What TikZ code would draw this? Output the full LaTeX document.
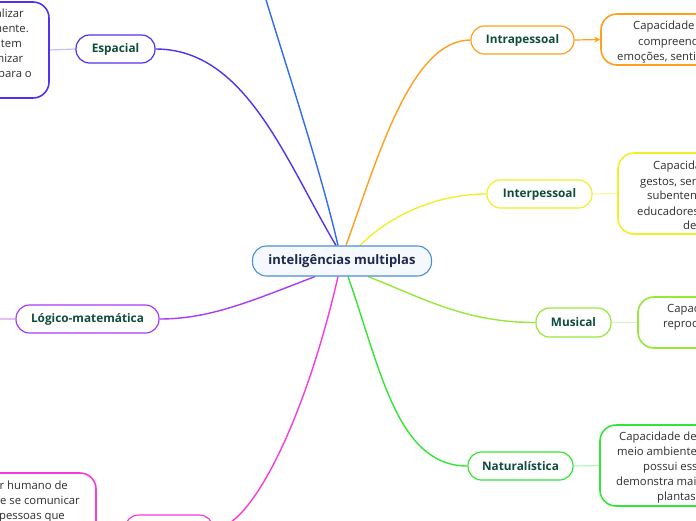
\documentclass[tikz,border=0pt]{standalone}
\usepackage{fontspec}
\setmainfont{Open Sans}
\usetikzlibrary{calc,arrows.meta,backgrounds}
\definecolor{cEsp}{HTML}{5530EE}
\definecolor{cBlue}{HTML}{2F6BF5}
\definecolor{cOrange}{HTML}{FF9F1C}
\definecolor{cYellow}{HTML}{EFEF2A}
\definecolor{cChart}{HTML}{95E83A}
\definecolor{cGreen}{HTML}{33E633}
\definecolor{cMag}{HTML}{F53BDC}
\definecolor{cPurp}{HTML}{A93BF5}
\definecolor{cCent}{HTML}{4A8FD4}
\definecolor{cCentFill}{HTML}{F5F9FD}
\definecolor{cLbl}{HTML}{0F4D3A}
\definecolor{cCentTxt}{HTML}{1B2A4E}
\definecolor{cTxt}{HTML}{2E2E2E}
\definecolor{lEsp}{HTML}{C8BEF8}
\definecolor{lYel}{HTML}{F8F8A8}
\definecolor{lMus}{HTML}{D8F5B8}
\definecolor{lNat}{HTML}{B8F5B8}
\definecolor{lPur}{HTML}{E2BFF8}
\begin{document}
\begin{tikzpicture}[x=1pt,y=-1pt,
  lbl/.style={draw,line width=1.2pt,fill=white,rounded corners=13.5pt,inner sep=0pt,
    minimum height=28pt,text=cLbl,font=\fontsize{11.8}{14}\selectfont\bfseries},
  desc/.style={draw,line width=1.6pt,fill=white,rounded corners=16pt,inner sep=0pt},
  frag/.style={inner sep=0pt,text=cTxt,font=\fontsize{11.3}{15}\selectfont},
  branch/.style={line width=1.4pt},
  thin/.style={line width=1.2pt}]
\useasboundingbox (0,0) rectangle (696,520);
\clip (0,0) rectangle (696,520);

% central
\node[draw=cCent,line width=1.1pt,fill=cCentFill,rounded corners=14pt,minimum width=179pt,minimum height=30pt,inner sep=0pt,text=cCentTxt,font=\fontsize{13}{16}\selectfont\bfseries] (central) at (342,261) {inteligências multiplas};

% labels
\node[lbl,draw=cEsp,minimum width=79pt] (esp) at (115.5,49) {Espacial};
\node[lbl,draw=cPurp,minimum width=143pt] (log) at (87.5,319) {Lógico-matemática};
\node[lbl,draw=cOrange,minimum width=103pt] (intra) at (522.5,40) {Intrapessoal};
\node[lbl,draw=cYellow,minimum width=105pt] (inter) at (539.5,194) {Interpessoal};
\node[lbl,draw=cChart,minimum width=75pt,minimum height=29pt] (mus) at (573.5,322.5) {Musical};
\node[lbl,draw=cGreen,minimum width=105pt] (nat) at (520.5,466) {Naturalística};
\node[lbl,draw=cMag,minimum width=88pt] (ling) at (169,529) {};
\coordinate (topn) at (260,-20);
\coordinate (logend) at (-10,319);

% description boxes
\node[desc,draw=cEsp,minimum width=149pt,minimum height=96pt] (espd) at (-25.5,50) {};
\node[desc,draw=cOrange,minimum width=180pt,minimum height=51pt] (intrad) at (691,39.5) {};
\node[desc,draw=cYellow,minimum width=180pt,minimum height=81pt] (interd) at (708,193.5) {};
\node[desc,draw=cChart,minimum width=180pt,minimum height=51pt] (musd) at (728,322.5) {};
\node[desc,draw=cGreen,minimum width=180pt,minimum height=81pt] (natd) at (690,465.5) {};
\node[desc,draw=cMag,minimum width=196pt,minimum height=107pt] (lingd) at (-2,526.5) {};

% text fragments
\node[frag,anchor=base east] (e1) at (24,17) {alizar};
\node[frag,anchor=base east] (e2) at (29,32) {mente.};
\node[frag,anchor=base east] (e3) at (22,47) {tem};
\node[frag,anchor=base east] (e4) at (23.5,62) {nizar};
\node[frag,anchor=base east] (e5) at (32,77) {para o};

\node[frag,anchor=base west] (i1) at (633,29) {Capacidade d};
\node[frag,anchor=base west] (i2) at (638,45) {compreend};
\node[frag,anchor=base west] (i3) at (617,60) {emoções, senti};

\node[frag,anchor=base west] (p1) at (653,169) {Capacida};
\node[frag,anchor=base west] (p2) at (640,185) {gestos, sen};
\node[frag,anchor=base west] (p3) at (647,199) {subentend};
\node[frag,anchor=base west] (p4) at (637,215) {educadores};
\node[frag,anchor=base west] (p5) at (683,229) {de};

\node[frag,anchor=base west] (m1) at (667,312) {Capac};
\node[frag,anchor=base west] (m2) at (663,327) {reprod};

\node[frag,anchor=base west] (n1) at (619,440) {Capacidade de};
\node[frag,anchor=base west] (n2) at (617,455) {meio ambiente};
\node[frag,anchor=base west] (n3) at (643,470) {possui ess};
\node[frag,anchor=base west] (n4) at (616,485) {demonstra mai};
\node[frag,anchor=base west] (n5) at (657,500) {plantas};

\node[frag,anchor=base east] (l1) at (68,489) {er humano de};
\node[frag,anchor=base east] (l2) at (80,504) {e se comunicar};
\node[frag,anchor=base east] (l3) at (65,519) {pessoas que};

\begin{scope}[on background layer]
% branches
\draw[branch,cBlue] (topn) .. controls ($(topn)+(24,80)$) and ($([xshift=-4pt]central.north)+(-18,-78)$) .. ([xshift=-4pt]central.north);
\draw[branch,cEsp] (esp.east) .. controls ($(esp.east)+(90,0)$) and ($([xshift=-6pt]central.north)+(-51,-86)$) .. ([xshift=-6pt]central.north);
\draw[branch,cOrange] (intra.west) .. controls ($(intra.west)+(-60,0)$) and ($([xshift=4pt]central.north)+(31,-85)$) .. ([xshift=4pt]central.north);
\draw[branch,cYellow] (inter.west) .. controls ($(inter.west)+(-50,0)$) and ($([xshift=18pt]central.north)+(30,-30)$) .. ([xshift=18pt]central.north);
\draw[branch,cChart] (mus.west) .. controls ($(mus.west)+(-70,0)$) and ($([xshift=26pt]central.south)+(56,22)$) .. ([xshift=26pt]central.south);
\draw[branch,cGreen] (nat.west) .. controls ($(nat.west)+(-70,0)$) and ($([xshift=6pt]central.south)+(33,94)$) .. ([xshift=6pt]central.south);
\draw[branch,cMag] (ling.east) .. controls ($(ling.east)+(37,0)$) and ($([xshift=-4pt]central.south)+(-33,144)$) .. ([xshift=-4pt]central.south);
\draw[branch,cPurp] (log.east) .. controls ($(log.east)+(50,0)$) and ($([xshift=-27pt]central.south)+(-65,25)$) .. ([xshift=-27pt]central.south);
% label to description
\draw[thin,lEsp] (esp.west) -- (espd.east);
\draw[thin,cOrange,-{Stealth[length=6pt,width=6pt]}] (intra.east) -- (intrad.west);
\draw[thin,lYel] (inter.east) -- (interd.west);
\draw[thin,lMus] (mus.east) -- (musd.west);
\draw[thin,lNat] (nat.east) -- (natd.west);
\draw[thin,lPur] (log.west) -- (logend);
\end{scope}
\end{tikzpicture}
\end{document}
